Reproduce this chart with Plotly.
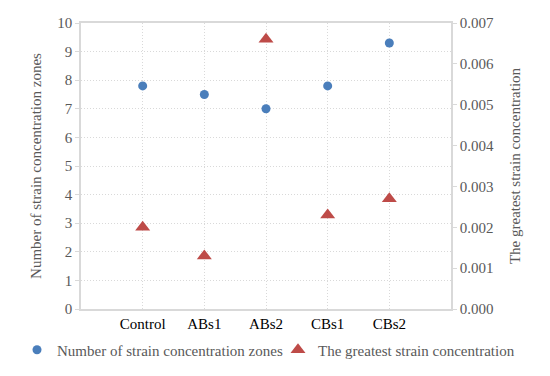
import plotly.graph_objects as go

categories = ["Control", "ABs1", "ABs2", "CBs1", "CBs2"]
zones = [7.8, 7.5, 7.0, 7.8, 9.3]
strain = [0.0020, 0.0013, 0.0066, 0.0023, 0.0027]
x_pos = [1, 2, 3, 4, 5]

font_family = "Liberation Serif"
grey = "#595959"
grid = "#d9d9d9"
fs = 15

# page body has an 8px default margin, so the figure is drawn 8px in from the top-left
W, H = 542, 368

fig = go.Figure()
fig.add_trace(go.Scatter(
    x=x_pos, y=zones, mode="markers", name="Number of strain concentration zones",
    marker=dict(symbol="circle", size=9, color="#4a7ebb"), yaxis="y", legend="legend"))
fig.add_trace(go.Scatter(
    x=x_pos, y=strain, mode="markers", name="The greatest strain concentration",
    marker=dict(symbol="triangle-up", size=13, color="#be4b48"), yaxis="y2", legend="legend2"))

leg_common = dict(orientation="h", xref="container", yref="container", xanchor="left",
                  y=1 - 342 / H, yanchor="middle", itemwidth=30,
                  font=dict(family=font_family, size=fs, color=grey), bgcolor="rgba(0,0,0,0)")

fig.update_layout(
    width=W, height=H,
    margin=dict(l=73, r=99, t=15, b=67, autoexpand=False),
    paper_bgcolor="white", plot_bgcolor="white",
    font=dict(family=font_family, size=fs, color=grey),
    showlegend=True,
    legend=dict(x=9 / W, **leg_common),
    legend2=dict(x=270 / W, **leg_common),
    xaxis=dict(range=[0, 6], tickmode="array", tickvals=x_pos, ticktext=categories,
               showgrid=True, gridcolor=grid, griddash="1px,2px", gridwidth=1,
               showline=True, linecolor=grid, linewidth=1.5, mirror=True,
               ticks="", tickfont=dict(family=font_family, color="#000000", size=fs), zeroline=False),
    yaxis=dict(range=[0, 10], dtick=1, showgrid=True, gridcolor=grid, griddash="1px,2px",
               showline=True, linecolor=grid, linewidth=1.5, ticks="outside",
               ticklen=4, tickcolor=grid, zeroline=False,
               title=dict(text="Number of strain concentration zones",
                          font=dict(family=font_family, size=fs, color=grey), standoff=12),
               tickfont=dict(family=font_family, size=fs, color=grey)),
    yaxis2=dict(range=[0, 0.007], dtick=0.001, tickformat=".3f", overlaying="y", side="right",
                showgrid=False, showline=True, linecolor=grid, linewidth=1.5,
                ticks="outside", ticklen=4, tickcolor=grid, zeroline=False,
                title=dict(text="The greatest strain concentration",
                           font=dict(family=font_family, size=fs, color=grey), standoff=16),
                tickfont=dict(family=font_family, size=fs, color=grey)),
)

fig.write_html("out.html")
